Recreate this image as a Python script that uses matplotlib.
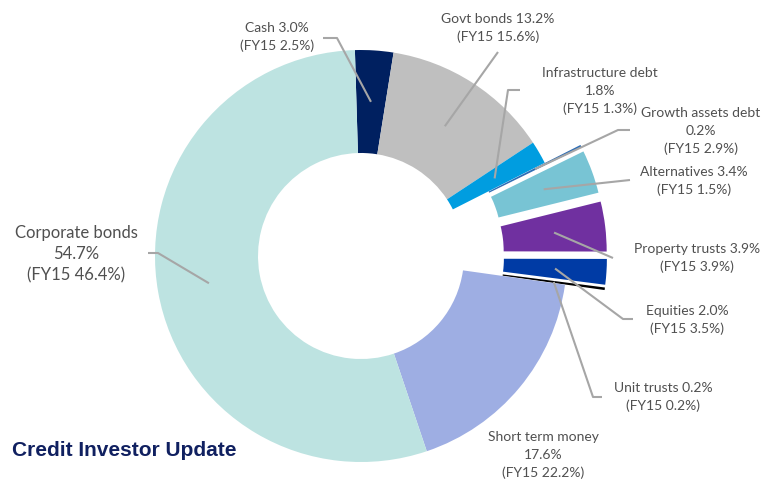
import numpy as np
import matplotlib
matplotlib.use("Agg")
import matplotlib.pyplot as plt

# asset allocation (% of portfolio)
labels = ["Cash", "Govt bonds", "Infrastructure debt", "Growth assets debt",
          "Alternatives", "Property trusts", "Equities", "Unit trusts",
          "Short term money", "Corporate bonds"]
share = [3.0, 13.2, 1.8, 0.2, 3.4, 3.9, 2.0, 0.2, 17.6, 54.7]
fy15 = [2.5, 15.6, 1.3, 2.9, 1.5, 3.9, 3.5, 0.2, 22.2, 46.4]
colors = ["#002060", "#BFBFBF", "#009DE0", "#2E6DB4", "#78C4D4",
          "#7030A0", "#003BA5", "#000000", "#9EAEE3", "#BDE3E1"]
explode = [0, 0, 0, 0.194, 0.194, 0.194, 0.194, 0.194, 0, 0]

W, H = 768, 482
CX, CY, R = 361, 256, 206  # pie centre / radius in pixels


def px(x, y):
    # pixel (from top-left) -> data units (radius = 1)
    return (x - CX) / R, (CY - y) / R


fig = plt.figure(figsize=(W / 100, H / 100), dpi=100)
ax = fig.add_axes([0, 0, 1, 1])

wedges, _ = ax.pie(share, colors=colors, explode=explode, startangle=91.7,
                   counterclock=False, radius=1,
                   wedgeprops=dict(width=0.5, linewidth=0))

ax.set_xlim(-CX / R, (W - CX) / R)
ax.set_ylim(-(H - CY) / R, CY / R)
ax.set_aspect("equal")
ax.axis("off")

# label text centre and leader path (text side first), in pixels
layout = {
    "Cash": ((277, 37), [(323, 38), (337, 38)]),
    "Govt bonds": ((498, 28), [(498, 52)]),
    "Infrastructure debt": ((600, 91), [(520, 90), (508, 90)]),
    "Growth assets debt": ((701, 131), [(630, 130), (618, 130)]),
    "Alternatives": ((694, 181), [(630, 180)]),
    "Property trusts": ((697, 258), [(613, 258)]),
    "Equities": ((687, 320), [(633, 319), (623, 319)]),
    "Unit trusts": ((663, 397), [(602, 397), (593, 397)]),
    "Short term money": ((543, 455), None),
    "Corporate bonds": ((76, 254), [(148, 253), (158, 253)]),
}
multiline = {"Infrastructure debt", "Growth assets debt", "Short term money",
             "Corporate bonds"}

txt_kw = dict(ha="center", va="center", color="#505050", family="Lato")

for w, lab, s, f in zip(wedges, labels, share, fy15):
    (tx, ty), path = layout[lab]
    if lab in multiline:
        text = f"{lab}\n{s:.1f}%\n(FY15 {f:.1f}%)"
    else:
        text = f"{lab} {s:.1f}%\n(FY15 {f:.1f}%)"
    big = lab == "Corporate bonds"
    ax.text(*px(tx, ty), text, fontsize=12 if big else 10,
            linespacing=1.4 if big else 1.55, **txt_kw)
    if path is None:
        continue
    mid = np.deg2rad((w.theta1 + w.theta2) / 2)
    rm = w.r - w.width / 2
    ex = w.center[0] + rm * np.cos(mid)
    ey = w.center[1] + rm * np.sin(mid)
    pts = [px(x, y) for x, y in path] + [(ex, ey)]
    xs, ys = zip(*pts)
    ax.plot(xs, ys, color="#A6A6A6", lw=1.5, solid_capstyle="butt")

ax.text(*px(12, 450), "Credit Investor Update", ha="left", va="center",
        fontsize=15, fontweight="bold", color="#102060",
        family="Liberation Sans")

fig.savefig("out.png", dpi=100)
